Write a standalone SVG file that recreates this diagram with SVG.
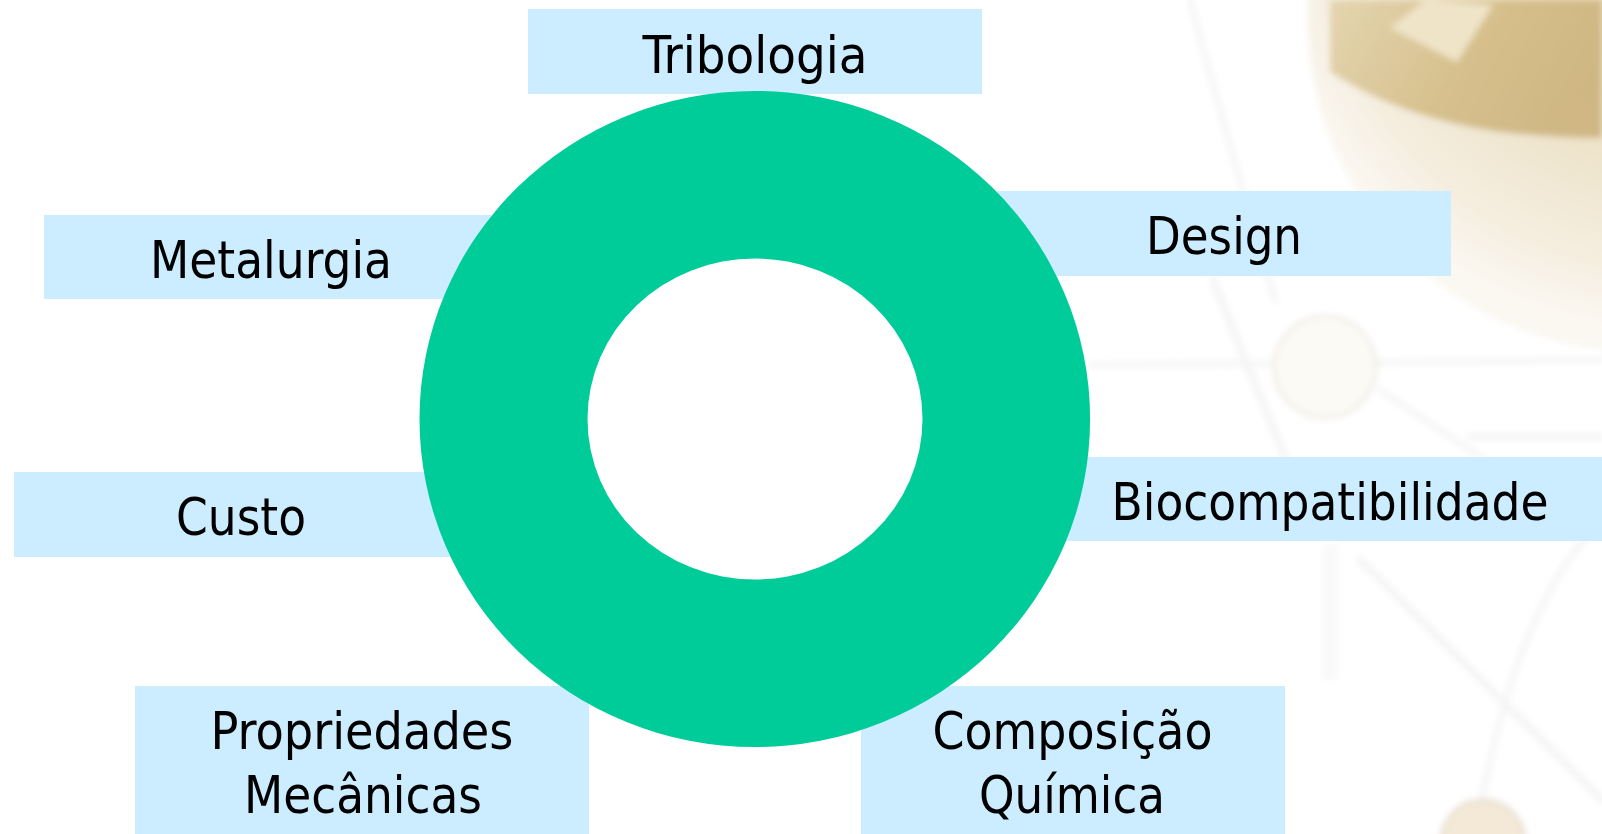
<svg xmlns="http://www.w3.org/2000/svg" width="1602" height="834" viewBox="0 0 1602 834">
  <defs>
    <radialGradient id="sphereGrad" cx="0.55" cy="0.35" r="0.62">
      <stop offset="0" stop-color="#e6d6b2"/>
      <stop offset="0.55" stop-color="#ede2c8"/>
      <stop offset="0.85" stop-color="#f5eee0"/>
      <stop offset="1" stop-color="#fbf8f2"/>
    </radialGradient>
    <linearGradient id="cupGrad" x1="0" y1="0" x2="1" y2="0.4">
      <stop offset="0" stop-color="#e0cfa4"/>
      <stop offset="0.6" stop-color="#d0b67c"/>
      <stop offset="1" stop-color="#c8ad74"/>
    </linearGradient>
    <filter id="soft" x="-20%" y="-20%" width="140%" height="140%">
      <feGaussianBlur stdDeviation="3"/>
    </filter>
    <style>
      .box { fill: #CCECFF; }
      .label { font-family: "DejaVu Sans Condensed", "DejaVu Sans", Tahoma, sans-serif; font-size: 52px; fill: #000000; text-anchor: middle; }
      .bgline { fill: none; stroke: #f5f5f5; stroke-linecap: round; }
    </style>
  </defs>

  <rect x="0" y="0" width="1602" height="834" fill="#ffffff"/>

  <!-- faded background picture (right side) -->
  <g id="background" filter="url(#soft)">
    <path class="bgline" d="M1190 0 Q1230 150 1275 300" stroke-width="6"/>
    <path class="bgline" d="M1213 280 L1290 470" stroke-width="8"/>
    <path class="bgline" d="M1360 560 L1602 800" stroke-width="8"/>
    <path class="bgline" d="M1380 390 L1500 470" stroke-width="6"/>
    <rect x="1322" y="545" width="16" height="135" fill="#f9f9f9"/>
    <path class="bgline" d="M1090 365 L1602 360" stroke-width="6"/>
    <path class="bgline" d="M1470 437 L1602 437" stroke-width="7" stroke="#f0f0f0"/>
    <path class="bgline" d="M1602 520 Q1520 600 1482 800" stroke-width="6" stroke="#eeeeee"/>
    <circle cx="1640" cy="20" r="332" fill="url(#sphereGrad)"/>
    <path d="M1330 0 L1330 72 Q1400 118 1500 132 Q1560 138 1602 138 L1602 0 Z" fill="url(#cupGrad)" opacity="0.8"/>
    <path d="M1390 28 L1457 62 L1493 5 L1425 0 Z" fill="#efe4c8"/>
    <circle cx="1325" cy="367" r="51" fill="#fcfaf5" stroke="#efebe4" stroke-width="3"/>
    <circle cx="1483" cy="842" r="42" fill="#f3e9d6" stroke="#e6ddcf" stroke-width="3"/>
  </g>

  <g id="node-tribologia">
    <rect class="box" x="528" y="9" width="454" height="85"/>
    <text class="label" x="755" y="73" textLength="225" lengthAdjust="spacingAndGlyphs">Tribologia</text>
  </g>
  <g id="node-metalurgia">
    <rect class="box" x="44" y="215" width="454" height="84"/>
    <text class="label" x="271" y="278" textLength="242" lengthAdjust="spacingAndGlyphs">Metalurgia</text>
  </g>
  <g id="node-custo">
    <rect class="box" x="14" y="472" width="454" height="85"/>
    <text class="label" x="241" y="535" textLength="130" lengthAdjust="spacingAndGlyphs">Custo</text>
  </g>
  <g id="node-design">
    <rect class="box" x="997" y="191" width="454" height="85"/>
    <text class="label" x="1224" y="254" textLength="156" lengthAdjust="spacingAndGlyphs">Design</text>
  </g>
  <g id="node-biocompatibilidade">
    <rect class="box" x="1040" y="457" width="562" height="84"/>
    <text class="label" x="1330" y="520" textLength="437" lengthAdjust="spacingAndGlyphs">Biocompatibilidade</text>
  </g>
  <g id="node-propriedades">
    <rect class="box" x="135" y="686" width="454" height="148"/>
    <text class="label" x="362" y="749" textLength="303" lengthAdjust="spacingAndGlyphs">Propriedades</text>
    <text class="label" x="363" y="813" textLength="238" lengthAdjust="spacingAndGlyphs">Mecânicas</text>
  </g>
  <g id="node-composicao">
    <rect class="box" x="861" y="686" width="424" height="148"/>
    <text class="label" x="1072.5" y="749" textLength="280" lengthAdjust="spacingAndGlyphs">Composição</text>
    <text class="label" x="1072" y="813" textLength="186" lengthAdjust="spacingAndGlyphs">Química</text>
  </g>

  <g id="node-ring">
    <path fill="#00CC99" fill-rule="evenodd" d="M419.5 419 A335.3 328 0 1 0 1090.1 419 A335.3 328 0 1 0 419.5 419 Z M587.5 419 A167.5 160.4 0 1 0 922.5 419 A167.5 160.4 0 1 0 587.5 419 Z"/>
  </g>

  <g id="connectors"></g>
</svg>
